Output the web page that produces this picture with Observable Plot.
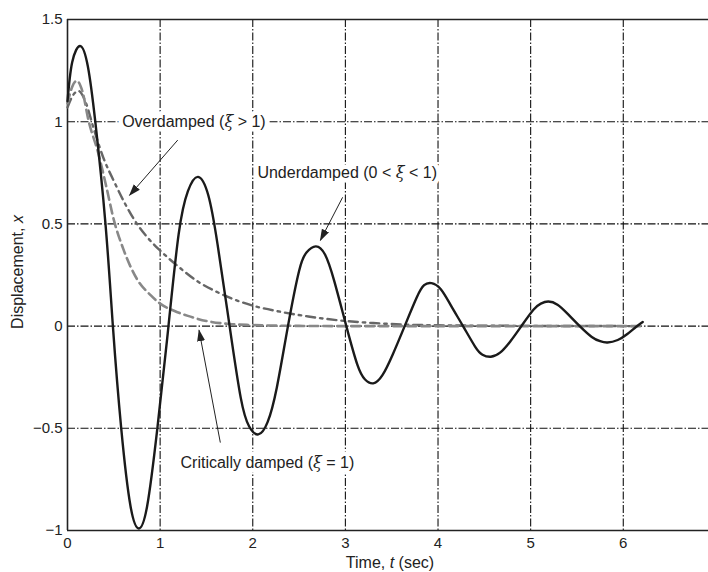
<!DOCTYPE html>
<html>
<head>
<meta charset="utf-8">
<script src="https://cdn.jsdelivr.net/npm/d3@7"></script>
<script src="https://cdn.jsdelivr.net/npm/@observablehq/plot@0.6"></script>
<style>
  html, body { margin: 0; padding: 0; background: #fff; }
  #chart { width: 708px; height: 572px; }
  svg { font-family: "Liberation Sans", Arial, Helvetica, sans-serif; }
</style>
</head>
<body>
<div id="chart"></div>
<script>
// ---- Data ----
const underT = [0, 0.05, 0.14, 0.22, 0.3, 0.41, 0.49, 0.58, 0.68, 0.77, 0.86, 0.97, 1.09, 1.2, 1.3, 1.41, 1.52, 1.62, 1.75, 1.87, 1.96, 2.06, 2.16, 2.26, 2.38, 2.5, 2.58, 2.68, 2.78, 2.88, 3.01, 3.13, 3.21, 3.3, 3.4, 3.51, 3.64, 3.77, 3.85, 3.93, 4.03, 4.14, 4.27, 4.4, 4.48, 4.57, 4.67, 4.78, 4.9, 5.03, 5.11, 5.19, 5.29, 5.4, 5.53, 5.66, 5.75, 5.83, 5.94, 6.04, 6.14, 6.21];
const underX = [1.10, 1.29, 1.37, 1.27, 1.0, 0.5, 0.0, -0.5, -0.88, -0.99, -0.88, -0.5, 0.0, 0.45, 0.66, 0.73, 0.64, 0.4, 0.0, -0.35, -0.49, -0.53, -0.47, -0.3, 0.0, 0.27, 0.36, 0.39, 0.35, 0.22, 0.0, -0.19, -0.26, -0.28, -0.24, -0.14, 0.0, 0.14, 0.2, 0.21, 0.18, 0.1, 0.0, -0.1, -0.14, -0.15, -0.13, -0.075, 0.0, 0.08, 0.11, 0.12, 0.105, 0.06, 0.0, -0.053, -0.074, -0.08, -0.068, -0.04, -0.003, 0.02];

const critT = [0, 0.05, 0.1, 0.16, 0.23, 0.33, 0.42, 0.5, 0.6, 0.75, 0.9, 1.0, 1.15, 1.3, 1.5, 1.75, 2.0, 2.5, 3.0, 4.0, 5.0, 6.2];
const critX = [1.09, 1.17, 1.2, 1.15, 1.0, 0.85, 0.68, 0.52, 0.38, 0.23, 0.15, 0.11, 0.075, 0.05, 0.025, 0.01, 0.005, 0.001, 0, 0, 0, 0];

const overT = [0, 0.06, 0.12, 0.2, 0.28, 0.39, 0.5, 0.62, 0.75, 0.87, 1.0, 1.2, 1.4, 1.6, 1.8, 2.0, 2.3, 2.6, 3.0, 3.3, 3.6, 4.0, 4.5, 5.0, 6.2];
const overX = [1.07, 1.13, 1.15, 1.09, 0.97, 0.82, 0.71, 0.6, 0.5, 0.43, 0.37, 0.29, 0.22, 0.17, 0.13, 0.10, 0.07, 0.047, 0.025, 0.015, 0.008, 0.004, 0.002, 0.001, 0];

const xTicks = [0, 1, 2, 3, 4, 5, 6];
const xTickLabels = ["0", "1", "2", "3", "4", "5", "6"];
const yTicks = [-1, -0.5, 0, 0.5, 1, 1.5];
const yTickLabels = ["\u22121", "\u22120.5", "0", "0.5", "1", "1.5"];
const xGrid = [1, 2, 3, 4, 5, 6];
const yGrid = [-0.5, 0, 0.5, 1];

const labelText = ["Overdamped (\u03be > 1)", "Underdamped (0 < \u03be < 1)", "Critically damped (\u03be = 1)"];
const labelT = [0.59, 2.05, 1.22];
const labelX = [1.0, 0.75, -0.67];

const arrowT1 = [1.19, 2.97, 1.65];
const arrowX1 = [0.91, 0.63, -0.57];
const arrowT2 = [0.67, 2.73, 1.42];
const arrowX2 = [0.64, 0.42, -0.02];

// ---- Build tables ----
const under = underT.map((t, i) => ({t, x: underX[i]}));
const crit = critT.map((t, i) => ({t, x: critX[i]}));
const over = overT.map((t, i) => ({t, x: overX[i]}));
const labels = labelText.map((s, i) => ({s, t: labelT[i], x: labelX[i]}));
const arrows = arrowT1.map((t1, i) => ({t1, x1: arrowX1[i], t2: arrowT2[i], x2: arrowX2[i]}));

const plot = Plot.plot({
  width: 708,
  height: 572,
  marginLeft: 67,
  marginRight: 0,
  marginTop: 19,
  marginBottom: 42,
  style: {fontFamily: '"Liberation Sans", Arial, Helvetica, sans-serif', fontSize: "15px", background: "#fff", color: "#222"},
  x: {domain: [0, 6.92], label: null},
  y: {domain: [-1, 1.5], label: null},
  marks: [
    Plot.ruleX(xGrid, {stroke: "#111", strokeWidth: 1.1, strokeDasharray: "8,2,1.5,2"}),
    Plot.ruleY(yGrid, {stroke: "#111", strokeWidth: 1.1, strokeDasharray: "8,2,1.5,2"}),
    Plot.ruleX([0], {stroke: "#222", strokeWidth: 1.6}),
    Plot.ruleY([1.5, -1], {stroke: "#222", strokeWidth: 1.6}),
    Plot.axisX({ticks: xTicks, tickFormat: (d) => xTickLabels[xTicks.indexOf(d)], tickSize: 0, tickPadding: 7, fontSize: 15, label: null}),
    Plot.axisY({ticks: yTicks, tickFormat: (d) => yTickLabels[yTicks.indexOf(d)], tickSize: 0, tickPadding: 5, fontSize: 15, label: null}),
    Plot.line(over, {x: "t", y: "x", stroke: "#666", strokeWidth: 2.4, strokeDasharray: "9,5,2.5,5", curve: "monotone-x"}),
    Plot.line(crit, {x: "t", y: "x", stroke: "#888", strokeWidth: 2.6, strokeDasharray: "9,5", curve: "monotone-x"}),
    Plot.line(under, {x: "t", y: "x", stroke: "#1a1a1a", strokeWidth: 2.4, curve: "natural"}),
    Plot.link(arrows, {x1: "t1", y1: "x1", x2: "t2", y2: "x2", stroke: "#222", strokeWidth: 1}),
    // white backing for the annotations, then the annotation text itself
    Plot.text(labels, {x: "t", y: "x", text: "s", textAnchor: "start", fontSize: 16, fill: "white", stroke: "white", strokeWidth: 9}),
    Plot.text(labels, {x: "t", y: "x", text: "s", textAnchor: "start", fontSize: 16, fill: "#222"})
  ]
});

document.getElementById("chart").appendChild(plot);

const svg = d3.select(plot);
// arrowhead marker
const defs = svg.insert("defs", ":first-child");
defs.append("marker")
  .attr("id", "ah")
  .attr("viewBox", "0 0 12 12")
  .attr("refX", 11)
  .attr("refY", 6)
  .attr("markerWidth", 12)
  .attr("markerHeight", 12)
  .attr("markerUnits", "userSpaceOnUse")
  .attr("orient", "auto")
  .append("path")
  .attr("d", "M0,2L12,6L0,10z")
  .attr("fill", "#222");
svg.selectAll('g[aria-label="link"] path, g[aria-label="link"] line').attr("marker-end", "url(#ah)");

// italic xi in annotations
svg.selectAll('g[aria-label="text"] text').each(function () {
  const el = d3.select(this);
  const s = el.text();
  const parts = s.split("\u03be");
  el.text(null);
  parts.forEach((p, i) => {
    if (i > 0) el.append("tspan").attr("font-style", "italic").attr("font-family", '"DejaVu Serif", "Liberation Serif", serif').text("\u03be");
    el.append("tspan").text(p);
  });
});

// axis titles
const xl = svg.append("text")
  .attr("x", 390).attr("y", 568)
  .attr("text-anchor", "middle")
  .attr("font-size", 16)
  .attr("fill", "#222");
xl.append("tspan").text("Time, ");
xl.append("tspan").attr("font-style", "italic").text("t");
xl.append("tspan").text(" (sec)");

const yl = svg.append("text")
  .attr("transform", "translate(23,272) rotate(-90)")
  .attr("text-anchor", "middle")
  .attr("font-size", 16)
  .attr("fill", "#222");
yl.append("tspan").text("Displacement, ");
yl.append("tspan").attr("font-style", "italic").text("x");
</script>
</body>
</html>
